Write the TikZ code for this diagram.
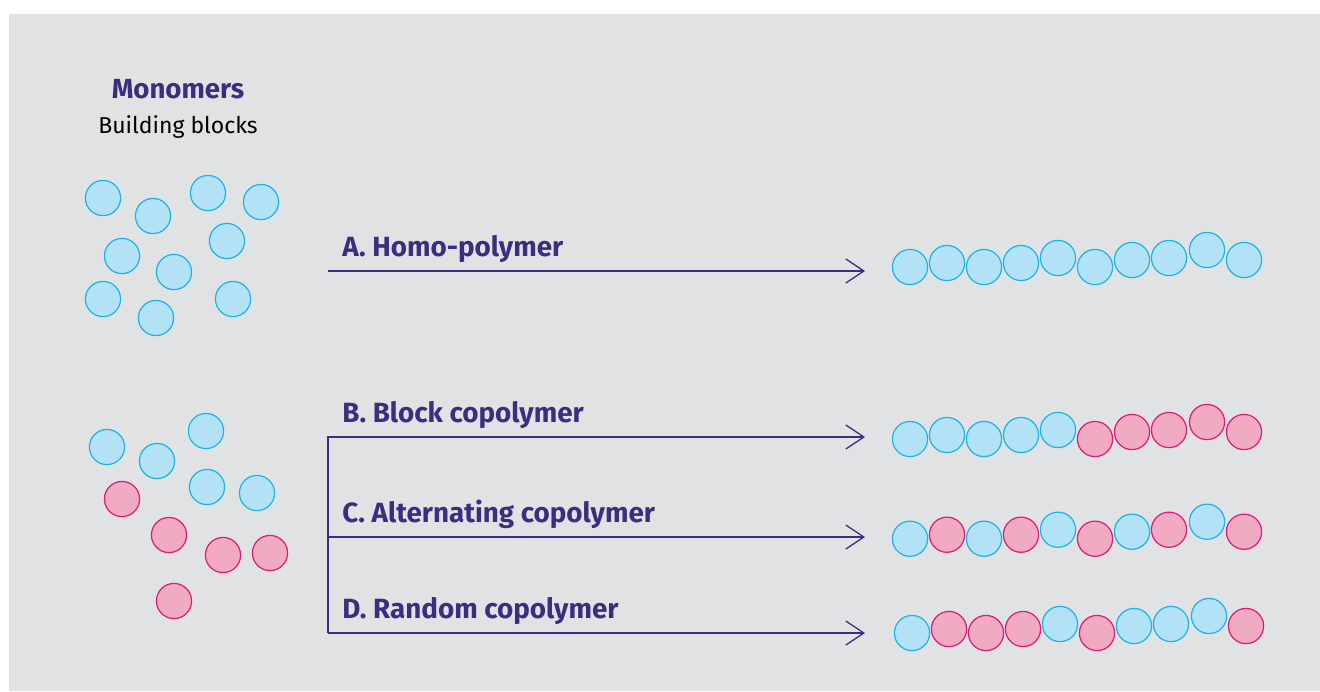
\documentclass[tikz,border=0pt]{standalone}
\usepackage{fontspec}
\setmainfont{Fira Sans}
\definecolor{indigo}{HTML}{3C2D80}
\definecolor{sky}{HTML}{1AB4EA}
\definecolor{skyfill}{HTML}{B3E2F7}
\definecolor{rose}{HTML}{E0197B}
\definecolor{rosefill}{HTML}{F0AAC1}
\definecolor{panel}{HTML}{E1E2E4}
\usepackage{tikz}
\usetikzlibrary{arrows.meta}

\tikzset{
  bluebead/.style={circle, draw=sky, fill=skyfill, line width=0.6pt, minimum size=17.6pt, inner sep=0pt},
  pinkbead/.style={bluebead, draw=rose, fill=rosefill},
  route/.style={indigo, line width=0.65pt, -{Straight Barb[length=9pt, width=12pt]}},
  kindtext/.style={anchor=base west, inner sep=0pt, font=\fontsize{13.9}{16}\selectfont\bfseries, text=indigo}
}

\begin{document}
\begin{tikzpicture}[x=0.5pt, y=-0.5pt]
  % Panel
  \fill[white] (0,0) rectangle (1320,691);
  \fill[panel] (9,14) rectangle (1320,691);
  \useasboundingbox (0,0) rectangle (1320,691);

  % Heading
  \node[anchor=base, font=\fontsize{13.8}{16}\selectfont\bfseries, text=indigo] (title) at (178,98) {Monomers};
  \node[anchor=base, font=\fontsize{11.5}{14}\selectfont] (subtitle) at (178,133) {Building blocks};

  % Monomers, one kind
  \foreach \x/\y [count=\i] in {103/198, 153/216, 208/193, 261/202, 227/241,
                                122/256, 174/272, 103/299, 156/318, 233/299}
    \node[bluebead] (m\i) at (\x,\y) {};

  % Monomers, two kinds
  \foreach \x/\y/\s [count=\i] in {107/447/bluebead, 157/461/bluebead, 206/431/bluebead,
                                   207/487/bluebead, 257/493/bluebead, 122/499/pinkbead,
                                   169/535/pinkbead, 223/555/pinkbead, 270/553/pinkbead,
                                   174/601/pinkbead}
    \node[\s] (n\i) at (\x,\y) {};

  % Chains
  \def\chainx{{910,947,984,1021,1058,1095,1132,1169,1207,1244}}
  \def\chainy{{267,263,267,263,258,267,260,258,250,260}}
  \foreach \s [count=\i from 0] in {bluebead,bluebead,bluebead,bluebead,bluebead,
                                    bluebead,bluebead,bluebead,bluebead,bluebead}
    \node[\s] (a\i) at ({\chainx[\i]},{\chainy[\i]}) {};
  \foreach \s [count=\i from 0] in {bluebead,bluebead,bluebead,bluebead,bluebead,
                                    pinkbead,pinkbead,pinkbead,pinkbead,pinkbead}
    \node[\s] (b\i) at ({\chainx[\i]},{\chainy[\i]+172}) {};
  \foreach \s [count=\i from 0] in {bluebead,pinkbead,bluebead,pinkbead,bluebead,
                                    pinkbead,bluebead,pinkbead,bluebead,pinkbead}
    \node[\s] (c\i) at ({\chainx[\i]},{\chainy[\i]+271.7}) {};
  \foreach \s [count=\i from 0] in {bluebead,pinkbead,pinkbead,pinkbead,bluebead,
                                    pinkbead,bluebead,bluebead,bluebead,pinkbead}
    \node[\s] (d\i) at ({\chainx[\i]+2},{\chainy[\i]+366}) {};

  % Routes
  \coordinate (forkA) at (328,271);
  \coordinate (forkB) at (328,437);
  \coordinate (forkC) at (328,537);
  \coordinate (forkD) at (328,633);
  \coordinate (tipA) at (865,271);
  \coordinate (tipB) at (865,437);
  \coordinate (tipC) at (865,537);
  \coordinate (tipD) at (865,633);
  \draw[route] (forkA) -- (tipA);
  \draw[route] (forkD) -- (forkB) -- (tipB);
  \draw[route] (forkC) -- (tipC);
  \draw[route] (forkD) -- (tipD);

  \node[kindtext] (kindA) at (342,256) {A. Homo-polymer};
  \node[kindtext] (kindB) at (342,422) {B. Block copolymer};
  \node[kindtext] (kindC) at (342,522) {C. Alternating copolymer};
  \node[kindtext] (kindD) at (342,618) {D. Random copolymer};
\end{tikzpicture}
\end{document}
